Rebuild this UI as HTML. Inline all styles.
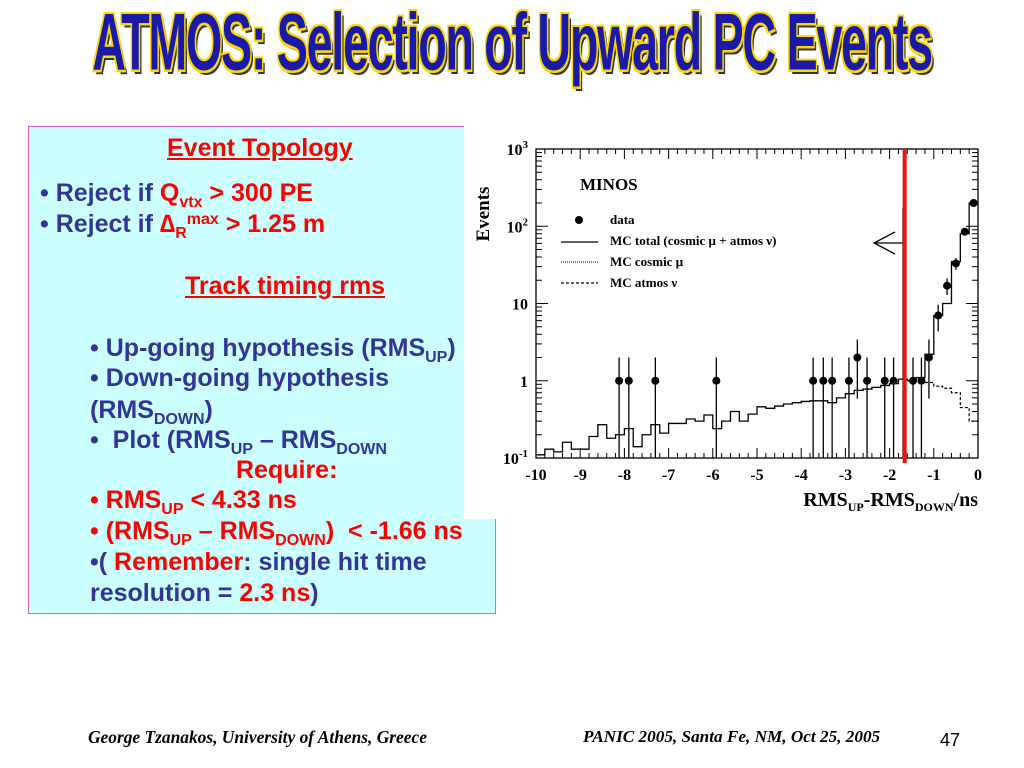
<!DOCTYPE html>
<html><head><meta charset="utf-8">
<style>
body{margin:0;width:1024px;height:768px;background:#fff;position:relative;overflow:hidden;font-family:"Liberation Sans",sans-serif}
.t{position:absolute;white-space:nowrap;font-weight:bold;font-size:25px;color:#333399;line-height:30px}
.r{color:#ff0000}
sub,sup{font-size:16px;line-height:0}
sub{vertical-align:-6px}
sup{vertical-align:8px}
.u{text-decoration:underline}
</style></head><body>
<div style="position:absolute;left:512px;top:2px;white-space:nowrap;font-family:'Liberation Sans',sans-serif;font-weight:bold;font-size:70px;line-height:80px;color:#1a1aa8;letter-spacing:-2px;text-shadow:2px 2px 0 #ffd700,-2px -2px 0 #ffd700,2px -2px 0 #ffd700,-2px 2px 0 #ffd700,4px 4px 0 #333;transform:translateX(-50%) scale(0.668,1.15);transform-origin:50% 50%">ATMOS: Selection of Upward PC Events</div>

<div style="position:absolute;left:28px;top:126px;width:466px;height:486px;background:#ccffff;border:1px solid #cc66cc"></div>

<div class="t r u" style="left:167px;top:133px">Event Topology</div>
<div class="t" style="left:40px;top:178px">• Reject if <span class="r">Q<sub>vtx</sub> &gt; 300 PE</span></div>
<div class="t" style="left:40px;top:209px">• Reject if <span class="r">∆<sub>R</sub><sup>max</sup> &gt; 1.25 m</span></div>
<div class="t r u" style="left:185px;top:271px">Track timing rms</div>
<div class="t" style="left:90px;top:333px">• Up-going hypothesis (RMS<sub>UP</sub>)</div>
<div class="t" style="left:90px;top:363px">• Down-going hypothesis</div>
<div class="t" style="left:90px;top:395px">(RMS<sub>DOWN</sub>)</div>
<div class="t" style="left:90px;top:425px">•&nbsp; Plot (RMS<sub>UP</sub> – RMS<sub>DOWN</sub></div>
<div class="t r" style="left:236px;top:455px">Require:</div>
<div class="t" style="left:90px;top:485px"><span class="r">• RMS<sub>UP</sub> &lt; 4.33 ns</span></div>
<div class="t r" style="left:90px;top:516px;z-index:2">• (RMS<sub>UP</sub> – RMS<sub>DOWN</sub>)&nbsp; &lt; -1.66 ns</div>
<div class="t" style="left:90px;top:547px">•( <span class="r">Remember</span>: single hit time</div>
<div class="t" style="left:90px;top:578px">resolution = <span class="r">2.3 ns</span>)</div>

<svg id="chart" width="1024" height="768" style="position:absolute;left:0;top:0;pointer-events:none;z-index:1"></svg>

<div style="position:absolute;left:88px;top:727px;font-family:'Liberation Serif',serif;font-weight:bold;font-style:italic;font-size:17.4px">George Tzanakos, University of Athens, Greece</div>
<div style="position:absolute;left:583px;top:727px;font-family:'Liberation Serif',serif;font-weight:bold;font-style:italic;font-size:17.2px">PANIC 2005, Santa Fe, NM, Oct 25, 2005</div>
<div style="position:absolute;left:940px;top:730px;font-size:18px">47</div>

<script>
const binStart=-10, binWidth=0.2;
const mcTotal=[0.11,0.13,0.12,0.16,0.13,0.13,0.19,0.27,0.18,0.2,0.24,0.14,0.2,0.27,0.21,0.28,0.28,0.32,0.3,0.36,0.24,0.3,0.4,0.3,0.37,0.46,0.44,0.47,0.5,0.52,0.54,0.55,0.55,0.52,0.6,0.68,0.75,0.78,0.82,0.87,0.92,1.05,1.0,1.1,2.2,7,10,35,80,200];
const mcAtmosStart=-1.2;
const mcAtmos=[0.95,0.85,0.8,0.7,0.45,0.3];
const dataX=[-8.12,-7.9,-7.3,-5.92,-3.73,-3.5,-3.3,-2.92,-2.73,-2.51,-2.11,-1.91,-1.47,-1.28,-1.11,-0.9,-0.7,-0.5,-0.3,-0.1];
const dataY=[1,1,1,1,1,1,1,1,2,1,1,1,1,1,2,7,17,33,85,200];
const xTicks=[-10,-9,-8,-7,-6,-5,-4,-3,-2,-1,0];
const yTickVals=[0.1,1,10,100,1000];
const yTickLabels=["10<tspan dy='-7' font-size='11'>-1</tspan>","1","10","10<tspan dy='-7' font-size='11'>2</tspan>","10<tspan dy='-7' font-size='11'>3</tspan>"];
const cutValue=-1.66;

const L=536,R=978,T=149,B=458;
const X=v=>L+(v+10)/10*(R-L);
const Y=v=>B-(Math.log10(v)+1)/4*(B-T);
const svg=document.getElementById('chart');
const NS='http://www.w3.org/2000/svg';
function mk(tag,attrs,name){const e=document.createElementNS(NS,tag);for(const k in attrs)e.setAttribute(k,attrs[k]);


svg.appendChild(e);return e;}
mk('rect',{x:464,y:126,width:560,height:393,fill:'#fff'},'chart-background');
mk('rect',{x:L,y:T,width:R-L,height:B-T,fill:'none',stroke:'#000','stroke-width':1.3},'plot-frame');
xTicks.forEach(v=>{
 mk('line',{x1:X(v),x2:X(v),y1:B,y2:B-10,stroke:'#000'},'x-major-tick');
 mk('line',{x1:X(v),x2:X(v),y1:T,y2:T+10,stroke:'#000'},'x-major-tick-top');
 const t=mk('text',{x:X(v),y:B+22,'text-anchor':'middle','font-family':'Liberation Serif','font-weight':'bold','font-size':16},'x-tick-label');t.textContent=v;
 if(v<0)for(let k=1;k<5;k++){const xx=X(v+k*0.2);
  mk('line',{x1:xx,x2:xx,y1:B,y2:B-5,stroke:'#000'},'x-minor-tick');
  mk('line',{x1:xx,x2:xx,y1:T,y2:T+5,stroke:'#000'},'x-minor-tick-top');}
});
yTickVals.forEach((v,i)=>{
 mk('line',{x1:L,x2:L+12,y1:Y(v),y2:Y(v),stroke:'#000'},'y-major-tick');
 mk('line',{x1:R,x2:R-12,y1:Y(v),y2:Y(v),stroke:'#000'},'y-major-tick-right');
 const t=mk('text',{x:L-8,y:Y(v)+6,'text-anchor':'end','font-family':'Liberation Serif','font-weight':'bold','font-size':16},'y-tick-label');t.innerHTML=yTickLabels[i];
 if(v<1000)for(let k=2;k<10;k++){const yy=Y(v*k);
  mk('line',{x1:L,x2:L+6,y1:yy,y2:yy,stroke:'#000'},'y-minor-tick');
  mk('line',{x1:R,x2:R-6,y1:yy,y2:yy,stroke:'#000'},'y-minor-tick-right');}
});
let yl=mk('text',{x:0,y:0,transform:`translate(489,${T+65}) rotate(-90)`,'text-anchor':'middle','font-family':'Liberation Serif','font-weight':'bold','font-size':19},'y-axis-title');yl.textContent='Events';
let xl=mk('text',{x:R,y:B+48,'text-anchor':'end','font-family':'Liberation Serif','font-weight':'bold','font-size':20},'x-axis-title');
xl.innerHTML="RMS<tspan font-size='12' dy='5'>UP</tspan><tspan dy='-5'>-RMS</tspan><tspan font-size='12' dy='5'>DOWN</tspan><tspan dy='-5'>/ns</tspan>";
let mt=mk('text',{x:580,y:190,'font-family':'Liberation Serif','font-weight':'bold','font-size':17},'minos-label');mt.textContent='MINOS';
let d='';mcTotal.forEach((v,i)=>{const x0=X(binStart+i*binWidth),x1=X(binStart+(i+1)*binWidth),y=Y(v);d+=(i?'L':'M')+x0+' '+y+'L'+x1+' '+y;});
mk('path',{d,fill:'none',stroke:'#000','stroke-width':1.3},'mc-total-histogram');
let d2='';mcAtmos.forEach((v,i)=>{const x0=X(mcAtmosStart+i*binWidth),x1=X(mcAtmosStart+(i+1)*binWidth),y=Y(v);d2+=(i?'L':'M')+x0+' '+y+'L'+x1+' '+y;});
mk('path',{d:d2,fill:'none',stroke:'#000','stroke-width':1.2,'stroke-dasharray':'3,2'},'mc-atmos-histogram');
dataX.forEach((x,i)=>{const v=dataY[i];const lo=Math.max(0.1,v-Math.sqrt(v)),hi=v+Math.max(Math.sqrt(v),1);
 mk('line',{x1:X(x),x2:X(x),y1:Y(hi),y2:lo<=0.1?B:Y(lo),stroke:'#000','stroke-width':1.3},'data-error-bar');
 mk('circle',{cx:X(x),cy:Y(v),r:4,fill:'#000'},'data-point');});
mk('circle',{cx:579,cy:220,r:4,fill:'#000'},'legend-data-marker');
mk('line',{x1:561,x2:598,y1:242,y2:242,stroke:'#000','stroke-width':1.3},'legend-mc-total-line');
mk('line',{x1:561,x2:598,y1:262,y2:262,stroke:'#000','stroke-width':1,'stroke-dasharray':'1,1'},'legend-mc-cosmic-line');
mk('line',{x1:561,x2:598,y1:283,y2:283,stroke:'#000','stroke-width':1.2,'stroke-dasharray':'3,2'},'legend-mc-atmos-line');
[['data',224],['MC total (cosmic μ + atmos ν)',245],['MC cosmic μ',266],['MC atmos ν',287]].forEach(([s,y])=>{const t=mk('text',{x:610,y,'font-family':'Liberation Serif','font-weight':'bold','font-size':13},'legend-entry');t.textContent=s;});
mk('line',{x1:903,x2:903,y1:208,y2:B,stroke:'#000','stroke-width':1.3},'cut-marker-line');
mk('path',{d:'M903 243 L874 243 M895 232 L874 243 L895 254',fill:'none',stroke:'#000','stroke-width':1.3},'cut-arrow');
mk('line',{x1:X(cutValue),x2:X(cutValue),y1:T,y2:B+5,stroke:'#ee1111','stroke-width':4},'cut-red-line');
</script>
</body></html>
